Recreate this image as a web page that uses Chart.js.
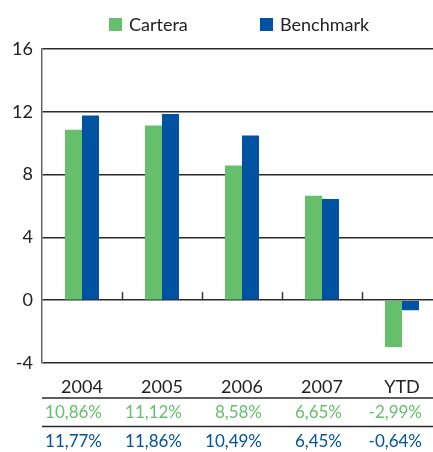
<!DOCTYPE html>
<html lang="es">
  <head>
    <meta charset="utf-8" />
    <title>Cartera vs Benchmark</title>
    <script src="https://cdn.jsdelivr.net/npm/chart.js@4/dist/chart.umd.min.js"></script>
    <style>
      html, body { margin: 0; padding: 0; background: #fff; overflow: hidden; }
      #wrap { width: 442px; height: 452px; }
    </style>
  </head>
  <body>
    <div id="wrap"><canvas id="chart" width="442" height="452"></canvas></div>

    <script>
      const categories = ["2004", "2005", "2006", "2007", "YTD"]
      const cartera = [10.86, 11.12, 8.58, 6.65, -2.99]
      const benchmark = [11.77, 11.86, 10.49, 6.45, -0.64]

      const GREEN = "#66bf6a"
      const BLUE = "#0053a0"
      const INK = "#222"
      const FONT = "Lato, 'Noto Sans', sans-serif"

      const pct = (v) => v.toFixed(2).replace(".", ",") + "%"

      // legend, boundary ticks and the value table under the axis
      const extras = {
        id: "extras",
        afterDraw(chart) {
          const { ctx, chartArea } = chart
          const x = chart.scales.x
          const y = chart.scales.y
          const y0 = y.getPixelForValue(0)
          const right = chart.width

          ctx.save()

          // small ticks between categories on the zero line
          ctx.strokeStyle = "#333"
          ctx.lineWidth = 1.5
          for (let i = 1; i < categories.length; i++) {
            const bx = Math.round((x.getPixelForValue(i - 1) + x.getPixelForValue(i)) / 2) + 0.5
            ctx.beginPath()
            ctx.moveTo(bx, y0 - 8)
            ctx.lineTo(bx, y0)
            ctx.stroke()
          }

          // table rules
          ctx.strokeStyle = "#2a2a2a"
          ;[398, 426.5].forEach((ly) => {
            ctx.beginPath()
            ctx.moveTo(chartArea.left, ly)
            ctx.lineTo(right, ly)
            ctx.stroke()
          })

          // table values
          ctx.font = "17px " + FONT
          ctx.textAlign = "right"
          ctx.textBaseline = "middle"
          chart.data.datasets.forEach((ds, d) => {
            ctx.fillStyle = ds.backgroundColor
            const ty = d === 0 ? 413 : 442
            ds.data.forEach((v, i) => {
              ctx.fillText(pct(v), x.getPixelForValue(i) + 20, ty)
            })
          })

          // legend
          const spots = [109, 260]
          ctx.font = "18px " + FONT
          ctx.textAlign = "left"
          chart.data.datasets.forEach((ds, d) => {
            ctx.fillStyle = ds.backgroundColor
            ctx.fillRect(spots[d], 18, 13, 13)
            ctx.fillStyle = INK
            ctx.fillText(ds.label, spots[d] + 20, 25)
          })

          ctx.restore()
        },
      }

      new Chart(document.getElementById("chart").getContext("2d"), {
        type: "bar",
        data: {
          labels: categories,
          datasets: [
            { label: "Cartera", data: cartera, backgroundColor: GREEN },
            { label: "Benchmark", data: benchmark, backgroundColor: BLUE },
          ],
        },
        options: {
          responsive: false,
          devicePixelRatio: 1,
          animation: false,
          layout: { padding: { top: 49, left: 0, right: 0, bottom: 0 } },
          datasets: {
            bar: { categoryPercentage: 0.425, barPercentage: 1, borderWidth: 0 },
          },
          plugins: {
            legend: { display: false },
            tooltip: { enabled: false },
          },
          scales: {
            x: {
              grid: { display: false },
              border: { display: false },
              ticks: { color: INK, font: { family: FONT, size: 18 }, padding: 5 },
              afterFit: (s) => { s.height = 89 },
            },
            y: {
              min: -4,
              max: 16,
              ticks: { stepSize: 4, color: INK, font: { family: FONT, size: 18 }, padding: 9 },
              grid: { color: "#2a2a2a", lineWidth: 1.5, drawTicks: false },
              border: { color: "#666", width: 1.5 },
              afterFit: (s) => { s.width = 42 },
            },
          },
        },
        plugins: [extras],
      })
    </script>
  </body>
</html>
